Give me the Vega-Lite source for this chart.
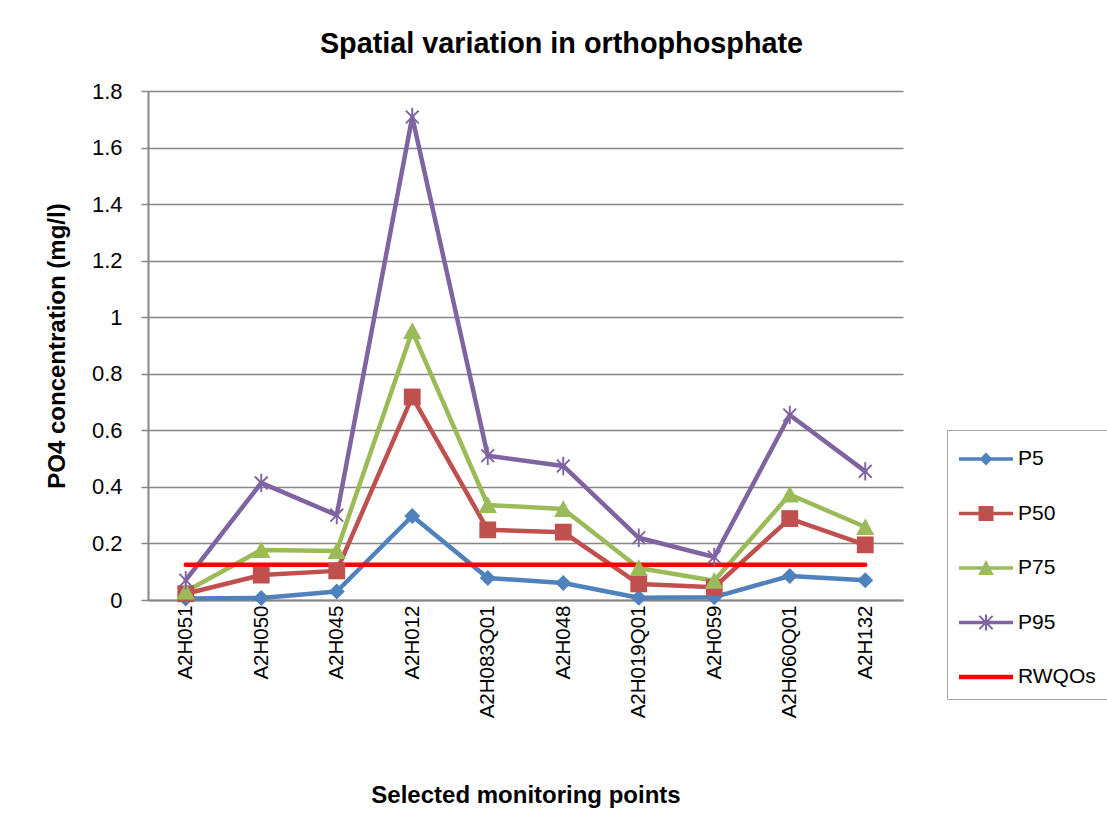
{
  "$schema": "https://vega.github.io/schema/vega-lite/v6.json",
  "width": 755,
  "height": 509,
  "autosize": {"type": "none"},
  "padding": {"left": 148, "top": 91, "right": 204, "bottom": 217},
  "background": "white",
  "config": {
    "font": "Liberation Sans",
    "view": {"stroke": null},
    "axis": {"labelFont": "Liberation Sans", "titleFont": "Liberation Sans", "labelColor": "black", "titleColor": "black"}
  },
  "title": {
    "text": "Spatial variation in orthophosphate",
    "anchor": "middle",
    "fontSize": 28.8,
    "fontWeight": "bold",
    "font": "Liberation Sans",
    "color": "black",
    "dx": 36,
    "offset": 21
  },
  "data": {
    "values": [
      {"site": "A2H051", "series": "P5", "value": 0.005},
      {"site": "A2H050", "series": "P5", "value": 0.007},
      {"site": "A2H045", "series": "P5", "value": 0.03},
      {"site": "A2H012", "series": "P5", "value": 0.297},
      {"site": "A2H083Q01", "series": "P5", "value": 0.078},
      {"site": "A2H048", "series": "P5", "value": 0.06},
      {"site": "A2H019Q01", "series": "P5", "value": 0.008},
      {"site": "A2H059", "series": "P5", "value": 0.01},
      {"site": "A2H060Q01", "series": "P5", "value": 0.085},
      {"site": "A2H132", "series": "P5", "value": 0.07},
      {"site": "A2H051", "series": "P50", "value": 0.022},
      {"site": "A2H050", "series": "P50", "value": 0.088},
      {"site": "A2H045", "series": "P50", "value": 0.103},
      {"site": "A2H012", "series": "P50", "value": 0.718},
      {"site": "A2H083Q01", "series": "P50", "value": 0.248},
      {"site": "A2H048", "series": "P50", "value": 0.24},
      {"site": "A2H019Q01", "series": "P50", "value": 0.057},
      {"site": "A2H059", "series": "P50", "value": 0.045},
      {"site": "A2H060Q01", "series": "P50", "value": 0.288},
      {"site": "A2H132", "series": "P50", "value": 0.195},
      {"site": "A2H051", "series": "P75", "value": 0.03},
      {"site": "A2H050", "series": "P75", "value": 0.177},
      {"site": "A2H045", "series": "P75", "value": 0.173},
      {"site": "A2H012", "series": "P75", "value": 0.951},
      {"site": "A2H083Q01", "series": "P75", "value": 0.336},
      {"site": "A2H048", "series": "P75", "value": 0.322},
      {"site": "A2H019Q01", "series": "P75", "value": 0.113},
      {"site": "A2H059", "series": "P75", "value": 0.068},
      {"site": "A2H060Q01", "series": "P75", "value": 0.373},
      {"site": "A2H132", "series": "P75", "value": 0.258},
      {"site": "A2H051", "series": "P95", "value": 0.07},
      {"site": "A2H050", "series": "P95", "value": 0.414},
      {"site": "A2H045", "series": "P95", "value": 0.3},
      {"site": "A2H012", "series": "P95", "value": 1.708},
      {"site": "A2H083Q01", "series": "P95", "value": 0.51},
      {"site": "A2H048", "series": "P95", "value": 0.474},
      {"site": "A2H019Q01", "series": "P95", "value": 0.22},
      {"site": "A2H059", "series": "P95", "value": 0.152},
      {"site": "A2H060Q01", "series": "P95", "value": 0.654},
      {"site": "A2H132", "series": "P95", "value": 0.455},
      {"site": "A2H051", "series": "RWQOs", "value": 0.125},
      {"site": "A2H050", "series": "RWQOs", "value": 0.125},
      {"site": "A2H045", "series": "RWQOs", "value": 0.125},
      {"site": "A2H012", "series": "RWQOs", "value": 0.125},
      {"site": "A2H083Q01", "series": "RWQOs", "value": 0.125},
      {"site": "A2H048", "series": "RWQOs", "value": 0.125},
      {"site": "A2H019Q01", "series": "RWQOs", "value": 0.125},
      {"site": "A2H059", "series": "RWQOs", "value": 0.125},
      {"site": "A2H060Q01", "series": "RWQOs", "value": 0.125},
      {"site": "A2H132", "series": "RWQOs", "value": 0.125}
    ]
  },
  "encoding": {
    "x": {
      "field": "site",
      "type": "nominal",
      "sort": null,
      "scale": {"type": "point", "padding": 0.5},
      "axis": {
        "title": "Selected monitoring points",
        "titleFontSize": 24,
        "titleFontWeight": "bold",
        "titlePadding": 66,
        "labelAngle": -90,
        "labelFontSize": 20.5,
        "labelPadding": 5,
        "ticks": false,
        "grid": false,
        "domainColor": "#868686",
        "domainWidth": 2
      }
    },
    "y": {
      "field": "value",
      "type": "quantitative",
      "scale": {"domain": [0, 1.8], "nice": false, "zero": true},
      "axis": {
        "title": "PO4 concentration (mg/l)",
        "titleFontSize": 24,
        "titleFontWeight": "bold",
        "titlePadding": 22,
        "values": [0, 0.2, 0.4, 0.6, 0.8, 1, 1.2, 1.4, 1.6, 1.8],
        "format": ".1~f",
        "labelFontSize": 22,
        "labelPadding": 19,
        "tickSize": 7,
        "tickColor": "#868686",
        "tickWidth": 1.5,
        "domainColor": "#868686",
        "domainWidth": 2,
        "gridColor": "#868686",
        "gridWidth": 1.5
      }
    }
  },
  "layer": [
    {
      "mark": {"type": "line", "strokeWidth": 4.5, "strokeCap": "round", "strokeJoin": "round"},
      "encoding": {
        "color": {
          "field": "series",
          "type": "nominal",
          "scale": {"domain": ["P5", "P50", "P75", "P95", "RWQOs"], "range": ["#4F81BD", "#C0504D", "#9BBB59", "#8064A2", "#FF0000"]},
          "legend": null
        }
      }
    },
    {
      "transform": [{"filter": "datum.series !== 'RWQOs'"}],
      "mark": {"type": "point", "filled": true, "opacity": 1, "size": 256, "strokeWidth": 0},
      "encoding": {
        "color": {
          "field": "series",
          "type": "nominal",
          "scale": {"domain": ["P5", "P50", "P75", "P95"], "range": ["#4F81BD", "#C0504D", "#9BBB59", "#8064A2"]},
          "legend": null
        },
        "shape": {
          "field": "series",
          "type": "nominal",
          "scale": {
            "domain": ["P5", "P50", "P75", "P95"],
            "range": [
              "M0,-1L1,0L0,1L-1,0Z",
              "M-1.05,-1.05H1.05V1.05H-1.05Z",
              "M0,-1.1L1.15,1L-1.15,1Z",
              "M-0.12,-1.15H0.12V1.15H-0.12Z M-0.715,-0.885L0.885,0.715L0.715,0.885L-0.885,-0.715Z M-0.715,0.885L-0.885,0.715L0.715,-0.885L0.885,-0.715Z"
            ]
          },
          "legend": null
        }
      }
    },
    {
      "mark": {"type": "point", "filled": true, "opacity": 0, "size": 10},
      "encoding": {
        "color": {
          "field": "series",
          "type": "nominal",
          "scale": {"domain": ["P5", "P50", "P75", "P95", "RWQOs"], "range": ["#4F81BD", "#C0504D", "#9BBB59", "#8064A2", "#FF0000"]},
          "legend": {
            "title": null,
            "orient": "none",
            "legendX": 799,
            "legendY": 339,
            "padding": 12,
            "strokeColor": "#A6A6A6",
            "symbolSize": 1156,
            "symbolOffset": 10,
            "symbolOpacity": 1,
            "symbolStrokeWidth": 0,
            "labelFontSize": 21,
            "labelFont": "Liberation Sans",
            "labelColor": "black",
            "labelOffset": 15,
            "rowPadding": 27.5
          }
        },
        "shape": {
          "field": "series",
          "type": "nominal",
          "scale": {
            "domain": ["P5", "P50", "P75", "P95", "RWQOs"],
            "range": [
              "M-1.59,-0.1H1.59V0.1H-1.59Z M0,-0.38L0.38,0L0,0.38L-0.38,0Z",
              "M-1.59,-0.1H1.59V0.1H-1.59Z M-0.44,-0.44H0.44V0.44H-0.44Z",
              "M-1.59,-0.1H1.59V0.1H-1.59Z M0,-0.47L0.46,0.41L-0.46,0.41Z",
              "M-1.59,-0.1H1.59V0.1H-1.59Z M-0.06,-0.47H0.06V0.47H-0.06Z M-0.348,-0.432L0.432,0.348L0.348,0.432L-0.432,-0.348Z M-0.348,0.432L-0.432,0.348L0.348,-0.432L0.432,-0.348Z",
              "M-1.59,-0.135H1.59V0.135H-1.59Z"
            ]
          },
          "legend": {
            "title": null,
            "orient": "none",
            "legendX": 799,
            "legendY": 339,
            "padding": 12,
            "strokeColor": "#A6A6A6",
            "symbolSize": 1156,
            "symbolOffset": 10,
            "symbolOpacity": 1,
            "symbolStrokeWidth": 0,
            "labelFontSize": 21,
            "labelFont": "Liberation Sans",
            "labelColor": "black",
            "labelOffset": 15,
            "rowPadding": 27.5
          }
        }
      }
    }
  ],
  "resolve": {"scale": {"color": "independent", "shape": "independent"}}
}
